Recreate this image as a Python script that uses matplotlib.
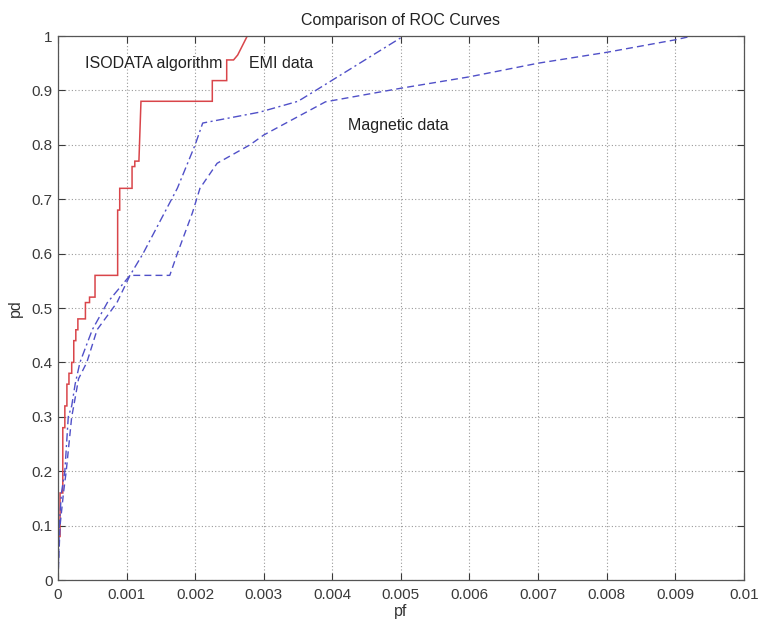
import matplotlib
matplotlib.use("Agg")
import matplotlib.pyplot as plt
import numpy as np

plt.rcParams['font.family'] = ['Liberation Sans', 'DejaVu Sans']

# ISODATA algorithm ROC (stepped)
iso_pf = [0, 0, 0.00003, 0.00003, 0.00007, 0.00007, 0.0001, 0.0001, 0.00013, 0.00013,
          0.00016, 0.00016, 0.0002, 0.0002, 0.00023, 0.00023, 0.00026, 0.00026, 0.00029,
          0.00029, 0.0004, 0.0004, 0.00046, 0.00046, 0.00054, 0.00054, 0.00087, 0.00087,
          0.0009, 0.0009, 0.00108, 0.00108, 0.00112, 0.00112, 0.00118, 0.00121, 0.00225,
          0.00225, 0.00246, 0.00246, 0.00256, 0.00262, 0.00276]
iso_pd = [0, 0.08, 0.08, 0.16, 0.16, 0.28, 0.28, 0.32, 0.32, 0.36,
          0.36, 0.38, 0.38, 0.40, 0.40, 0.44, 0.44, 0.46, 0.46,
          0.48, 0.48, 0.51, 0.51, 0.52, 0.52, 0.56, 0.56, 0.68,
          0.68, 0.72, 0.72, 0.76, 0.76, 0.77, 0.77, 0.88, 0.88,
          0.918, 0.918, 0.956, 0.956, 0.965, 1.0]

# EMI data ROC
emi_pf = [0, 0.00002, 0.00005, 0.0001, 0.00015, 0.0002, 0.00025, 0.00032, 0.0005, 0.00072,
          0.00105, 0.00124, 0.00149, 0.00174, 0.002, 0.00211, 0.00294, 0.0035, 0.00372, 0.00504]
emi_pd = [0, 0.10, 0.16, 0.20, 0.30, 0.32, 0.36, 0.40, 0.46, 0.51,
          0.56, 0.60, 0.66, 0.72, 0.80, 0.84, 0.86, 0.88, 0.897, 1.0]

# Magnetic data ROC
mag_pf = [0, 0.00003, 0.00008, 0.00012, 0.0002, 0.00023, 0.0003, 0.00042, 0.00057, 0.00086,
          0.00105, 0.00163, 0.00174, 0.00196, 0.00207, 0.00232, 0.0028, 0.003, 0.0039,
          0.005, 0.006, 0.007, 0.008, 0.009, 0.00925]
mag_pd = [0, 0.10, 0.16, 0.20, 0.30, 0.32, 0.37, 0.40, 0.46, 0.51,
          0.56, 0.56, 0.60, 0.675, 0.72, 0.766, 0.80, 0.818, 0.879,
          0.904, 0.925, 0.95, 0.97, 0.993, 1.0]

xticks = [0, 0.001, 0.002, 0.003, 0.004, 0.005, 0.006, 0.007, 0.008, 0.009, 0.01]
xticklabels = ['0', '0.001', '0.002', '0.003', '0.004', '0.005', '0.006', '0.007', '0.008', '0.009', '0.01']
yticks = [0, 0.1, 0.2, 0.3, 0.4, 0.5, 0.6, 0.7, 0.8, 0.9, 1]
yticklabels = ['0', '0.1', '0.2', '0.3', '0.4', '0.5', '0.6', '0.7', '0.8', '0.9', '1']

fig = plt.figure(figsize=(7.59, 6.24), dpi=100)
ax = fig.add_axes([0.0764, 0.0705, 0.9036, 0.8718])

blue = '#5050c8'
ax.plot(iso_pf, iso_pd, color='#d9454a', lw=1.1, solid_joinstyle='miter')
ax.plot(emi_pf, emi_pd, color=blue, lw=1.0, linestyle=(0, (6, 2.5, 1.5, 2.5)))
ax.plot(mag_pf, mag_pd, color=blue, lw=1.0, linestyle=(0, (5, 3)))

ax.set_xlim(0, 0.01)
ax.set_ylim(0, 1)
ax.set_xticks(xticks)
ax.set_xticklabels(xticklabels)
ax.set_yticks(yticks)
ax.set_yticklabels(yticklabels)
ax.grid(True, linestyle=(0, (1, 2)), color='#9a9a9a', lw=0.8)
ax.tick_params(direction='in', length=5, top=True, right=True, labelsize=11,
               colors='#3a3a3a')
ax.tick_params(axis='x', pad=6)
ax.tick_params(axis='y', pad=4)
for s in ax.spines.values():
    s.set_color('#555555')
    s.set_linewidth(0.9)

ax.set_title('Comparison of ROC Curves', fontsize=11.5, color='#222222', pad=8)
ax.set_xlabel('pf', fontsize=11.5, color='#333333', labelpad=1)
ax.set_ylabel('pd', fontsize=11.5, color='#333333', labelpad=6)

ax.text(0.0004, 0.95, 'ISODATA algorithm', fontsize=11.5, va='center', ha='left', color='#222222')
ax.text(0.00278, 0.95, 'EMI data', fontsize=11.5, va='center', ha='left', color='#222222')
ax.text(0.00423, 0.835, 'Magnetic data', fontsize=11.5, va='center', ha='left', color='#222222')

fig.savefig('out.png', dpi=100)
